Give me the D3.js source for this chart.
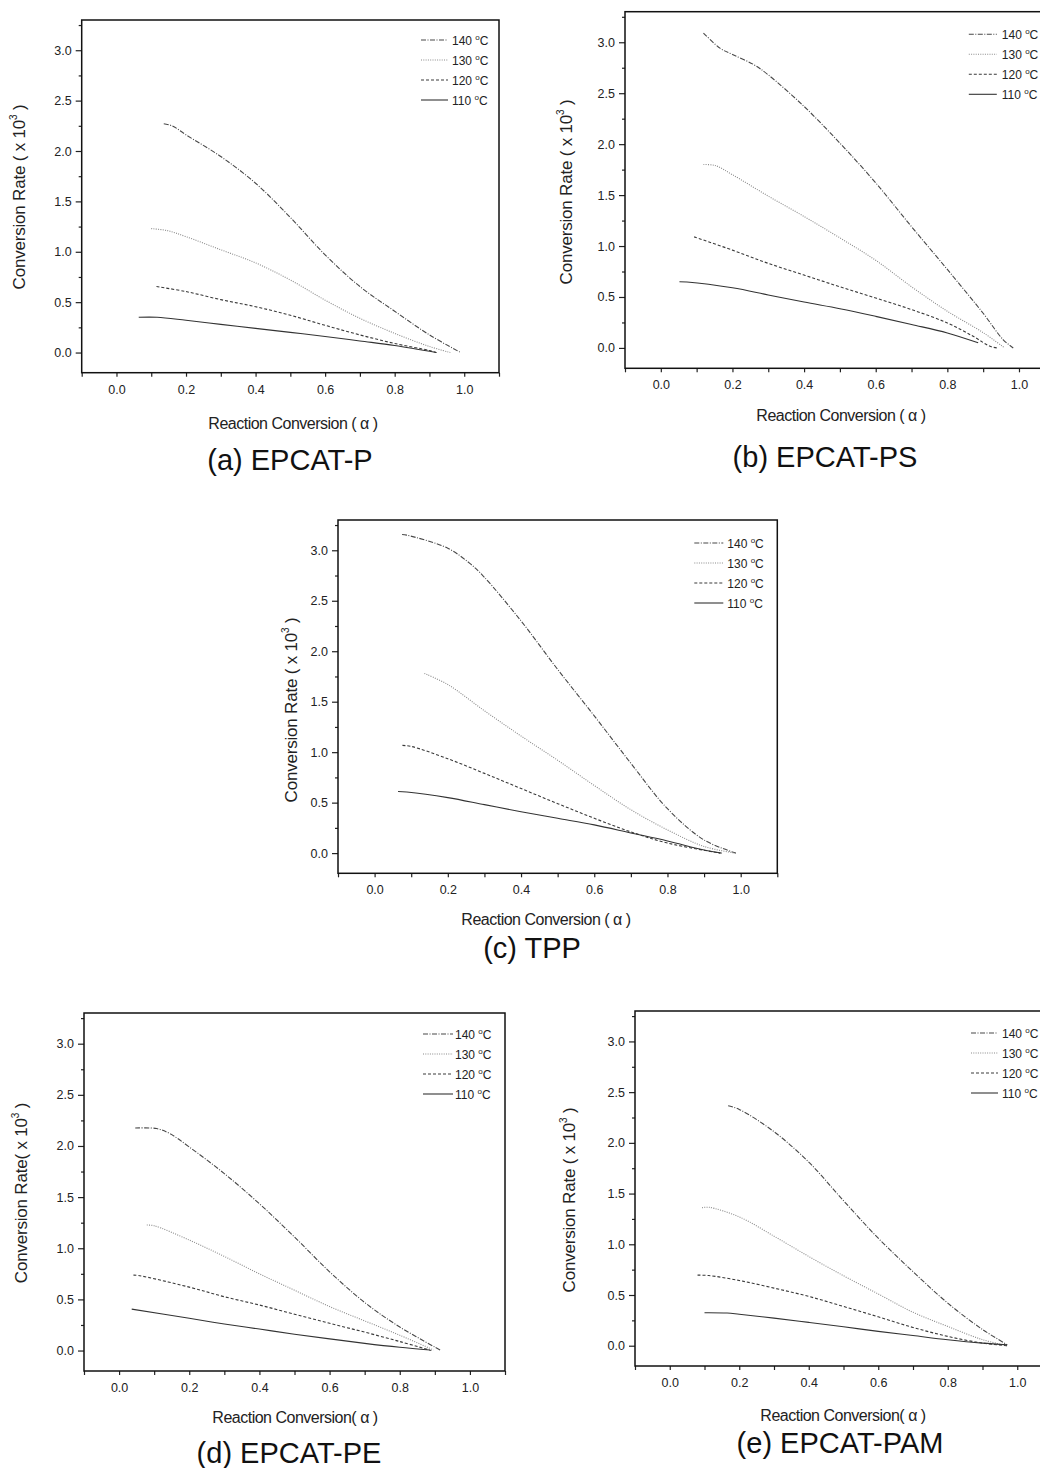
<!DOCTYPE html>
<html>
<head>
<meta charset="utf-8">
<script src="https://cdn.jsdelivr.net/npm/d3@7"></script>
<style>
  body { margin: 0; background: #fff; }
  svg { display: block; font-family: "Liberation Sans", Arial, sans-serif; }
  .tick line { stroke: #222; stroke-width: 1.2; }
</style>
</head>
<body>
<svg id="chart" width="1040" height="1468"></svg>
<script>
// series: [reaction conversion, conversion rate x10^3]
const temps = ['140', '130', '120', '110']

const p140 = [[0.136,2.27],[0.16,2.25],[0.2,2.16],[0.3,1.945],[0.4,1.68],[0.5,1.34],[0.6,0.97],[0.7,0.655],[0.8,0.41],[0.9,0.175],[0.99,0]]
const p130 = [[0.10,1.23],[0.146,1.21],[0.2,1.15],[0.3,1.02],[0.4,0.89],[0.5,0.72],[0.6,0.52],[0.7,0.34],[0.8,0.19],[0.9,0.06],[0.96,0]]
const p120 = [[0.115,0.655],[0.2,0.605],[0.3,0.525],[0.4,0.455],[0.5,0.37],[0.6,0.27],[0.7,0.175],[0.8,0.09],[0.9,0.02],[0.92,0]]
const p110 = [[0.064,0.35],[0.117,0.35],[0.2,0.32],[0.3,0.28],[0.4,0.24],[0.5,0.2],[0.6,0.16],[0.7,0.115],[0.8,0.07],[0.92,0]]

const ps140 = [[0.119,3.09],[0.166,2.94],[0.2,2.88],[0.26,2.78],[0.3,2.68],[0.4,2.37],[0.5,2.01],[0.6,1.62],[0.7,1.19],[0.8,0.77],[0.9,0.34],[0.956,0.08],[0.984,0]]
const ps130 = [[0.119,1.80],[0.152,1.79],[0.2,1.70],[0.3,1.49],[0.4,1.29],[0.5,1.08],[0.6,0.86],[0.7,0.60],[0.8,0.36],[0.9,0.15],[0.96,0]]
const ps120 = [[0.093,1.09],[0.2,0.96],[0.3,0.83],[0.4,0.715],[0.5,0.60],[0.6,0.49],[0.7,0.376],[0.8,0.245],[0.872,0.114],[0.919,0.016],[0.938,0]]
const ps110 = [[0.052,0.65],[0.073,0.647],[0.2,0.59],[0.3,0.52],[0.4,0.45],[0.5,0.385],[0.6,0.31],[0.7,0.23],[0.8,0.147],[0.886,0.05]]

const t140 = [[0.075,3.157],[0.088,3.15],[0.2,3.02],[0.26,2.87],[0.298,2.74],[0.4,2.30],[0.5,1.82],[0.6,1.36],[0.7,0.89],[0.8,0.44],[0.9,0.13],[0.987,0]]
const t130 = [[0.136,1.78],[0.2,1.67],[0.3,1.41],[0.4,1.16],[0.5,0.92],[0.6,0.67],[0.7,0.43],[0.8,0.23],[0.9,0.066],[0.985,0]]
const t120 = [[0.076,1.067],[0.1,1.057],[0.2,0.935],[0.3,0.79],[0.4,0.64],[0.5,0.49],[0.6,0.345],[0.7,0.21],[0.8,0.1],[0.944,0]]
const t110 = [[0.064,0.61],[0.088,0.605],[0.2,0.55],[0.3,0.48],[0.4,0.41],[0.5,0.345],[0.6,0.28],[0.7,0.2],[0.8,0.12],[0.9,0.03],[0.948,0]]

const pe140 = [[0.046,2.175],[0.107,2.17],[0.145,2.12],[0.2,1.99],[0.3,1.73],[0.4,1.435],[0.5,1.11],[0.6,0.77],[0.7,0.47],[0.8,0.23],[0.915,0.006]]
const pe130 = [[0.079,1.227],[0.1,1.22],[0.2,1.08],[0.3,0.92],[0.4,0.75],[0.5,0.59],[0.6,0.43],[0.7,0.29],[0.8,0.15],[0.896,0.006]]
const pe120 = [[0.041,0.737],[0.055,0.734],[0.2,0.62],[0.3,0.526],[0.4,0.445],[0.5,0.355],[0.6,0.266],[0.7,0.18],[0.8,0.088],[0.89,0]]
const pe110 = [[0.036,0.405],[0.2,0.315],[0.3,0.26],[0.4,0.21],[0.5,0.16],[0.6,0.114],[0.7,0.07],[0.8,0.032],[0.886,0.006]]

const pam140 = [[0.168,2.366],[0.2,2.33],[0.3,2.11],[0.4,1.81],[0.5,1.43],[0.6,1.06],[0.7,0.73],[0.8,0.42],[0.9,0.16],[0.971,0.01]]
const pam130 = [[0.093,1.36],[0.112,1.365],[0.2,1.27],[0.3,1.08],[0.4,0.88],[0.5,0.69],[0.6,0.51],[0.7,0.33],[0.8,0.19],[0.9,0.06],[0.971,0]]
const pam120 = [[0.08,0.696],[0.112,0.692],[0.2,0.643],[0.3,0.568],[0.4,0.486],[0.5,0.387],[0.6,0.285],[0.7,0.18],[0.8,0.092],[0.9,0.026],[0.971,0]]
const pam110 = [[0.1,0.325],[0.165,0.322],[0.2,0.31],[0.3,0.272],[0.4,0.23],[0.5,0.187],[0.6,0.141],[0.7,0.1],[0.8,0.059],[0.9,0.026],[0.971,0.01]]

const xTicks = [0, 0.2, 0.4, 0.6, 0.8, 1.0]
const xMinor = [-0.1, 0.1, 0.3, 0.5, 0.7, 0.9, 1.1]
const yTicks = [0, 0.5, 1.0, 1.5, 2.0, 2.5, 3.0]
const yMinor = [0.25, 0.75, 1.25, 1.75, 2.25, 2.75, 3.25]

// panel layout (pixel boxes, label spots)
const panels = [
  { caption: '(a) EPCAT-P', series: [p140, p130, p120, p110], box: [81.7, 20, 499, 372.7],
    xTitle: 'Reaction Conversion ( α )', yTitle: 'Conversion Rate ( x 10',
    xt: [293, 429], yt: [25, 197], cap: [290, 470], leg: [-78, -51, -47, 20] },
  { caption: '(b) EPCAT-PS', series: [ps140, ps130, ps120, ps110], box: [625, 11.7, 1054.8, 368.3],
    xTitle: 'Reaction Conversion ( α )', yTitle: 'Conversion Rate ( x 10',
    xt: [841, 421], yt: [572, 192], cap: [825, 467], leg: [-86, -58, -53, 22.6] },
  { caption: '(c) TPP', series: [t140, t130, t120, t110], box: [338, 520, 777.3, 873.3],
    xTitle: 'Reaction Conversion ( α )', yTitle: 'Conversion Rate ( x 10',
    xt: [546, 925], yt: [297, 710], cap: [532, 958], leg: [-83, -54, -50, 23] },
  { caption: '(d) EPCAT-PE', series: [pe140, pe130, pe120, pe110], box: [84, 1013, 505, 1371],
    xTitle: 'Reaction  Conversion( α )', yTitle: 'Conversion  Rate( x 10',
    xt: [295, 1423], yt: [27, 1193], cap: [289, 1463], leg: [-82, -52, -50, 21] },
  { caption: '(e) EPCAT-PAM', series: [pam140, pam130, pam120, pam110], box: [635, 1011, 1052, 1366],
    xTitle: 'Reaction Conversion( α )', yTitle: 'Conversion Rate ( x 10',
    xt: [843, 1421], yt: [575, 1200], cap: [840, 1453], leg: [-81, -54, -50, 22] }
]

const styles = [
  { color: '#484848', dash: '5,1.5,1,1.5' },
  { color: '#8a8a8a', dash: '1,1.3' },
  { color: '#3a3a3a', dash: '3,2' },
  { color: '#333', dash: null }
]

const svg = d3.select('#chart')
svg.append('rect').attr('width', 1040).attr('height', 1468).attr('fill', '#fff')

const styleTicks = s => {
  s.select('.domain').remove()
  s.attr('font-family', null).attr('font-size', null)
  s.selectAll('.tick text').attr('font-size', 12.5).attr('fill', '#222')
}

panels.forEach(p => {
  const [l, t, r, b] = p.box

  const x = d3.scaleLinear().domain([-0.1, 1.1]).range([l, r])
  const y = d3.scaleLinear().domain([-0.2, 3.3]).range([b, t])

  const g = svg.append('g')

  // ticks
  g.append('g').attr('transform', `translate(0,${b})`)
    .call(d3.axisBottom(x).tickValues(xTicks).tickSize(4).tickPadding(8).tickFormat(d3.format('.1f')))
    .call(styleTicks)
  g.append('g').attr('transform', `translate(0,${b})`)
    .call(d3.axisBottom(x).tickValues(xMinor).tickSize(4).tickFormat(''))
    .call(styleTicks)
  g.append('g').attr('transform', `translate(${l},0)`)
    .call(d3.axisLeft(y).tickValues(yTicks).tickSize(6).tickPadding(4).tickFormat(d3.format('.1f')))
    .call(styleTicks)
  g.append('g').attr('transform', `translate(${l},0)`)
    .call(d3.axisLeft(y).tickValues(yMinor).tickSize(3).tickFormat(''))
    .call(styleTicks)

  // frame
  g.append('rect')
    .attr('x', l).attr('y', t).attr('width', r - l).attr('height', b - t)
    .attr('fill', 'none').attr('stroke', '#111').attr('stroke-width', 1.5)

  const line = d3.line()
    .curve(d3.curveCatmullRom.alpha(0.5))
    .x(d => x(d[0]))
    .y(d => y(d[1]))

  p.series.forEach((s, i) => {
    g.append('path')
      .datum(s)
      .attr('d', line)
      .attr('fill', 'none')
      .attr('stroke', styles[i].color)
      .attr('stroke-width', 1.1)
      .attr('stroke-dasharray', styles[i].dash)
  })

  // legend
  const [lx0, lx1, ltx, ly] = p.leg
  temps.forEach((tp, i) => {
    const yy = t + ly + i * 20
    g.append('line')
      .attr('x1', r + lx0).attr('x2', r + lx1).attr('y1', yy).attr('y2', yy)
      .attr('stroke', styles[i].color).attr('stroke-width', 1.1)
      .attr('stroke-dasharray', styles[i].dash)
    const tx = g.append('text')
      .attr('x', r + ltx).attr('y', yy + 4.5)
      .attr('font-size', 12).attr('fill', '#222')
    tx.append('tspan').text(tp + ' ')
    tx.append('tspan').attr('font-size', 8).attr('dy', -5).text('o')
    tx.append('tspan').attr('dy', 5).text('C')
  })

  // axis titles
  g.append('text')
    .attr('x', p.xt[0]).attr('y', p.xt[1])
    .attr('text-anchor', 'middle').attr('font-size', 16).attr('fill', '#222')
    .attr('letter-spacing', -0.5)
    .text(p.xTitle)

  const yt = g.append('text')
    .attr('transform', `translate(${p.yt[0]},${p.yt[1]}) rotate(-90)`)
    .attr('text-anchor', 'middle').attr('font-size', 17).attr('fill', '#222')
    .attr('letter-spacing', -0.2)
  yt.append('tspan').text(p.yTitle)
  yt.append('tspan').attr('font-size', 10).attr('dy', -8).text('3')
  yt.append('tspan').attr('dy', 8).text(' )')

  // caption
  g.append('text')
    .attr('x', p.cap[0]).attr('y', p.cap[1])
    .attr('text-anchor', 'middle').attr('font-size', 29).attr('fill', '#111')
    .text(p.caption)
})
</script>
</body>
</html>
